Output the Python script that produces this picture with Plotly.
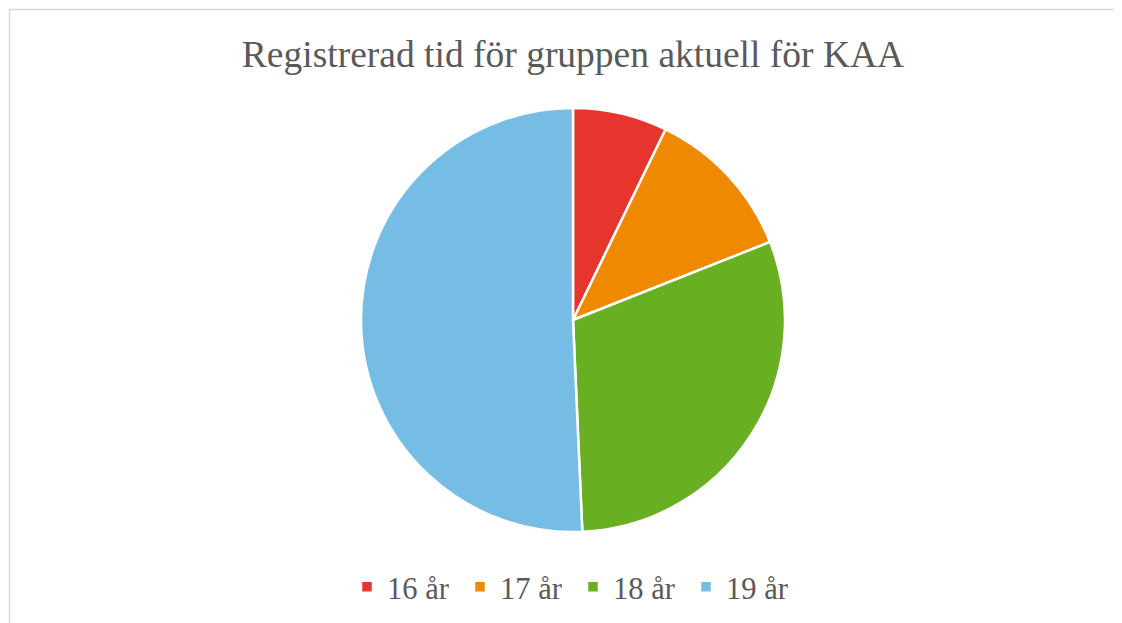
import plotly.graph_objects as go

categories = ["16 år", "17 år", "18 år", "19 år"]
values = [7.2, 11.8, 30.3, 50.7]
colors = ["#E5352D", "#EF8A00", "#69AF22", "#76BDE5"]
title_text = "Registrerad tid för gruppen aktuell för KAA"

W, H = 1122, 623
off = 8  # page body margin
cx, cy, r = 573 - off, 320 - off, 212

fig = go.Figure(go.Pie(
    labels=categories,
    values=values,
    sort=False,
    direction="clockwise",
    rotation=0,
    textinfo="none",
    hoverinfo="label+percent",
    marker=dict(colors=colors, line=dict(color="white", width=2.5)),
    domain=dict(x=[(cx - r) / W, (cx + r) / W], y=[1 - (cy + r) / H, 1 - (cy - r) / H]),
))

serif = "Liberation Serif"
fig.update_layout(
    width=W, height=H,
    margin=dict(l=0, r=0, t=0, b=0),
    paper_bgcolor="white",
    title=dict(text=title_text, x=cx / W, xanchor="center", y=1 - (54 - off) / H, yanchor="middle",
               font=dict(family=serif, size=37.5, color="#595959")),
    legend=dict(orientation="h", x=cx / W, xanchor="center", y=1 - (587 - off) / H, yanchor="middle",
                font=dict(family=serif, size=30.5, color="#595959"),
                entrywidth=68, entrywidthmode="pixels", traceorder="normal"),
    shapes=[dict(type="rect", xref="paper", yref="paper", x0=(9.5 - off) / W, x1=1.05, y0=-0.05,
                 y1=1 - (9.5 - off) / H,
                 line=dict(color="#D9D9D9", width=1.5), fillcolor="rgba(0,0,0,0)")],
)

fig.write_html("out.html")
